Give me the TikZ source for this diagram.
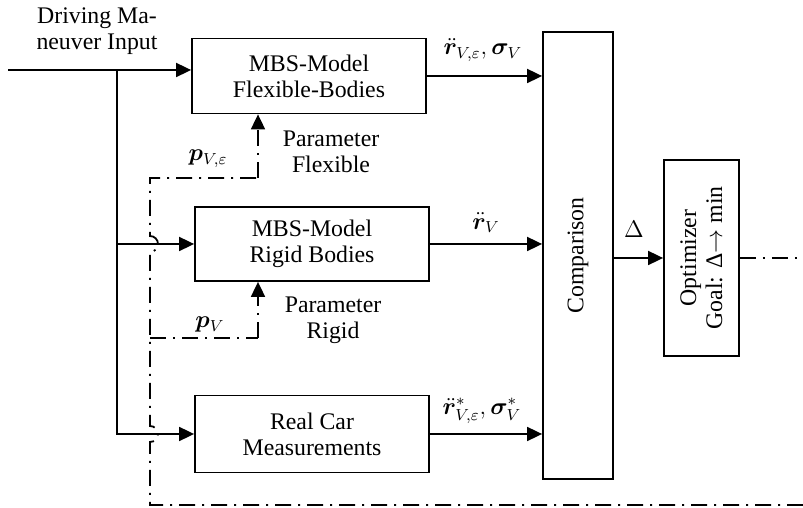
\documentclass[tikz,border=0pt]{standalone}
\usepackage{amsmath,amssymb}
\usepackage{bm}
\usepackage{fontspec}
\setmainfont{Liberation Serif}
\usepackage{tikz}
\usetikzlibrary{arrows.meta, positioning}

\begin{document}
\begin{tikzpicture}[x=0.5pt, y=0.5pt,
    every node/.append style={font=\fontsize{11.9}{13}\selectfont},
    box/.style={rectangle, draw, line width=0.9pt, minimum width=117pt, minimum height=37.5pt, align=center, inner sep=2pt},
    lbl/.style={align=center, inner sep=0pt},
    arr/.style={-{Triangle[length=7.5pt, width=7pt]}, line width=0.9pt},
    dashdot/.style={line width=0.9pt, dash pattern=on 8pt off 3.5pt on 1pt off 3.5pt}]
    \useasboundingbox (0,0) rectangle (803,508);

    % model blocks
    \node[box] (flex) at (309,432) {MBS-Model\\Flexible-Bodies};
    \node[box, minimum height=37pt] (rigid) at (312,264) {MBS-Model\\Rigid Bodies};
    \node[box, minimum height=38.5pt] (real) at (312,74) {Real Car\\Measurements};
    \node[box, minimum width=35pt, minimum height=223.5pt] (cmp) at (578,252.5) {};
    \node[lbl, rotate=90] (cmptext) at (cmp) {Comparison};
    \node[box, minimum width=37.5pt, minimum height=98pt] (opt) at (701.5,250) {};
    \node[lbl, rotate=90] (opttext) at (opt) {Optimizer\\Goal: Δ$\rightarrow$ min};

    % texts
    \node[lbl] (input) at (97,477) {Driving Ma-\\neuver Input};
    \node[lbl] (parflex) at (331,356) {Parameter\\Flexible};
    \node[lbl] (parrigid) at (333,188) {Parameter\\Rigid};
    \node[lbl] (pflex) at (208,349) {$\bm{p}_{V,\varepsilon}$};
    \node[lbl] (prigid) at (210,183) {$\bm{p}_{V}$};
    \node[lbl] (outflex) at (483,458) {$\ddot{\bm{r}}_{V,\varepsilon}, \bm{\sigma}_V$};
    \node[lbl] (outrigid) at (486,285) {$\ddot{\bm{r}}_{V}$};
    \node[lbl] (outreal) at (482,97) {$\ddot{\bm{r}}^{*}_{V,\varepsilon}, \bm{\sigma}^{*}_V$};
    \node[lbl] (delta) at (634,279) {$\Delta$};

    % driving input to the three blocks
    \coordinate (in) at (8,438);
    \coordinate (split) at (117,438);
    \draw[arr] (in) -- (in -| flex.west);
    \draw[line width=0.9pt] (split) -- (split |- real.west);
    \draw[arr] (split) |- (rigid.west);
    \draw[arr] (split) |- (real.west);

    % outputs to comparison
    \draw[arr] (flex.east) -- (flex.east -| cmp.west);
    \draw[arr] (rigid.east) -- (rigid.east -| cmp.west);
    \draw[arr] (real.east) -- (real.east -| cmp.west);
    \draw[arr] (opt.west -| cmp.east) -- (opt.west);

    % parameter feedback from optimizer
    \coordinate (pf) at (258,330);
    \coordinate (pr) at (258,170);
    \draw[dashdot] (opt.east) -- ++(64,0);
    \draw[dashdot] (803,3) -- (150,3) -- (150,66)
        arc[start angle=-90, end angle=90, radius=4pt] -- (150,256)
        arc[start angle=-90, end angle=90, radius=4pt] -- (150,330) -- (pf);
    \draw[arr, dashdot] (pf) -- (pf |- flex.south);
    \draw[dashdot] (150,170) -- (pr);
    \draw[arr, dashdot] (pr) -- (pr |- rigid.south);
\end{tikzpicture}
\end{document}
